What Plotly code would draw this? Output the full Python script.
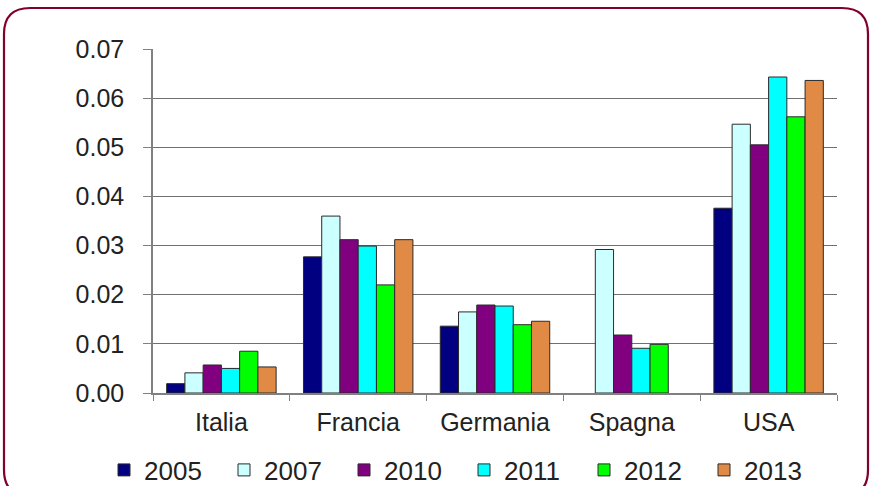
import plotly.graph_objects as go

countries = ["Italia", "Francia", "Germania", "Spagna", "USA"]
years = ["2005", "2007", "2010", "2011", "2012", "2013"]
v2005 = [0.0019, 0.0277, 0.0136, None, 0.0376]
v2007 = [0.0041, 0.0360, 0.0165, 0.0292, 0.0547]
v2010 = [0.0057, 0.0312, 0.0179, 0.0118, 0.0505]
v2011 = [0.0050, 0.0299, 0.0177, 0.0091, 0.0643]
v2012 = [0.0085, 0.0220, 0.0139, 0.0099, 0.0562]
v2013 = [0.0053, 0.0312, 0.0146, None, 0.0636]
colors = ["#000080", "#CCFFFF", "#800080", "#00FFFF", "#00FF00", "#E08A45"]
series = [v2005, v2007, v2010, v2011, v2012, v2013]

W, H = 870, 486
L, R, T, B = 153, 33, 49, 93
PW, PH = W - L - R, H - T - B


def X(px):
    return (px - L) / PW


def Y(py):
    return (H - B - py) / PH


fig = go.Figure()
for name, vals, col in zip(years, series, colors):
    fig.add_trace(go.Bar(
        x=countries, y=vals, name=name,
        marker=dict(color=col, line=dict(color="#2a2a2a", width=1)),
    ))

# rounded frame
x0, x1, y0, y1, r = 4, 868, 8, 496, 26
path = (
    f"M {X(x0)},{Y(y0 + r)} "
    f"Q {X(x0)},{Y(y0)} {X(x0 + r)},{Y(y0)} "
    f"L {X(x1 - r)},{Y(y0)} "
    f"Q {X(x1)},{Y(y0)} {X(x1)},{Y(y0 + r)} "
    f"L {X(x1)},{Y(y1 - r)} "
    f"Q {X(x1)},{Y(y1)} {X(x1 - r)},{Y(y1)} "
    f"L {X(x0 + r)},{Y(y1)} "
    f"Q {X(x0)},{Y(y1)} {X(x0)},{Y(y1 - r)} Z"
)
fig.add_shape(type="path", path=path, xref="paper", yref="paper",
              line=dict(color="#82002E", width=2.2), layer="above")

font = "Liberation Sans, Arial, sans-serif"
fig.update_layout(
    width=W, height=H,
    margin=dict(l=L, r=R, t=T, b=B, autoexpand=False),
    paper_bgcolor="white", plot_bgcolor="white",
    barmode="group", bargap=0.2, bargroupgap=0,
    font=dict(family=font, color="#222222", size=25),
    showlegend=True,
    legend=dict(
        orientation="h", x=X(104), y=Y(470), xanchor="left", yanchor="middle",
        font=dict(size=26, color="#222222"),
        entrywidth=75, entrywidthmode="pixels",
        traceorder="normal", bgcolor="rgba(0,0,0,0)",
    ),
    xaxis=dict(
        showline=True, linecolor="#808080", linewidth=1.5,
        ticks="outside", tickson="boundaries", ticklen=6, tickcolor="#808080",
        tickfont=dict(size=25, color="#222222"),
        ticklabelstandoff=6,
        showgrid=False,
    ),
    yaxis=dict(
        range=[0, 0.07], dtick=0.01, tickformat=".2f",
        showline=True, linecolor="#808080", linewidth=1.5,
        ticks="outside", ticklen=8, tickcolor="#808080",
        showgrid=True, gridcolor="#707070", gridwidth=1.3,
        zeroline=False,
        tickfont=dict(size=25, color="#222222"),
        ticklabelstandoff=14,
    ),
)

fig.write_html("out.html")
